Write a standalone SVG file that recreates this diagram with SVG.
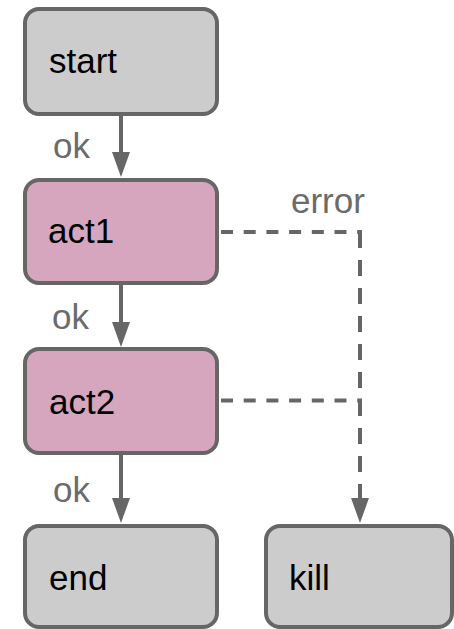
<svg xmlns="http://www.w3.org/2000/svg" width="454" height="629" viewBox="0 0 454 629">
<style>
.box{stroke:#666666;stroke-width:4}
.grey{fill:#cccccc}
.pink{fill:#d5a6bd}
.lbl{font-family:"Liberation Sans",Arial,sans-serif;font-size:35px;fill:#000000}
.elbl{font-family:"Liberation Sans",Arial,sans-serif;font-size:35px;fill:#6b6b6b}
.edge{stroke:#666666;stroke-width:4;fill:none}
.dh{stroke-dasharray:12 10.7}
.dv{stroke-dasharray:16 12}
</style>
<defs>
<marker id="arr" markerUnits="userSpaceOnUse" markerWidth="26" markerHeight="18" viewBox="0 0 26 18" refX="0" refY="9" orient="auto">
<path d="M0,0 L25,9 L0,18 Z" fill="#666666"/>
</marker>
</defs>
<rect width="454" height="629" fill="#ffffff"/>
<g id="connectors">
<line class="edge" x1="121" y1="116" x2="121" y2="152" marker-end="url(#arr)"/>
<line class="edge" x1="121" y1="285" x2="121" y2="322" marker-end="url(#arr)"/>
<line class="edge" x1="121" y1="455" x2="121" y2="498" marker-end="url(#arr)"/>
<line class="edge dh" x1="221" y1="232" x2="362" y2="232"/>
<line class="edge dv" x1="360" y1="232" x2="360" y2="498" marker-end="url(#arr)"/>
<line class="edge dh" x1="221" y1="400.5" x2="362" y2="400.5"/>
<text class="elbl" x="53" y="158">ok</text>
<text class="elbl" x="52" y="329">ok</text>
<text class="elbl" x="53" y="502">ok</text>
<text class="elbl" x="291" y="213">error</text>
</g>
<g id="start">
<rect class="box grey" x="25" y="9" width="192" height="105" rx="14"/>
<text class="lbl" x="49" y="73">start</text>
</g>
<g id="act1">
<rect class="box pink" x="25" y="180" width="192" height="103" rx="14"/>
<text class="lbl" x="48" y="243">act1</text>
</g>
<g id="act2">
<rect class="box pink" x="25" y="349" width="192" height="104" rx="14"/>
<text class="lbl" x="49" y="414">act2</text>
</g>
<g id="end">
<rect class="box grey" x="25" y="526" width="192" height="101" rx="14"/>
<text class="lbl" x="49" y="590">end</text>
</g>
<g id="kill">
<rect class="box grey" x="266" y="526" width="186" height="101" rx="14"/>
<text class="lbl" x="289" y="590">kill</text>
</g>
</svg>
